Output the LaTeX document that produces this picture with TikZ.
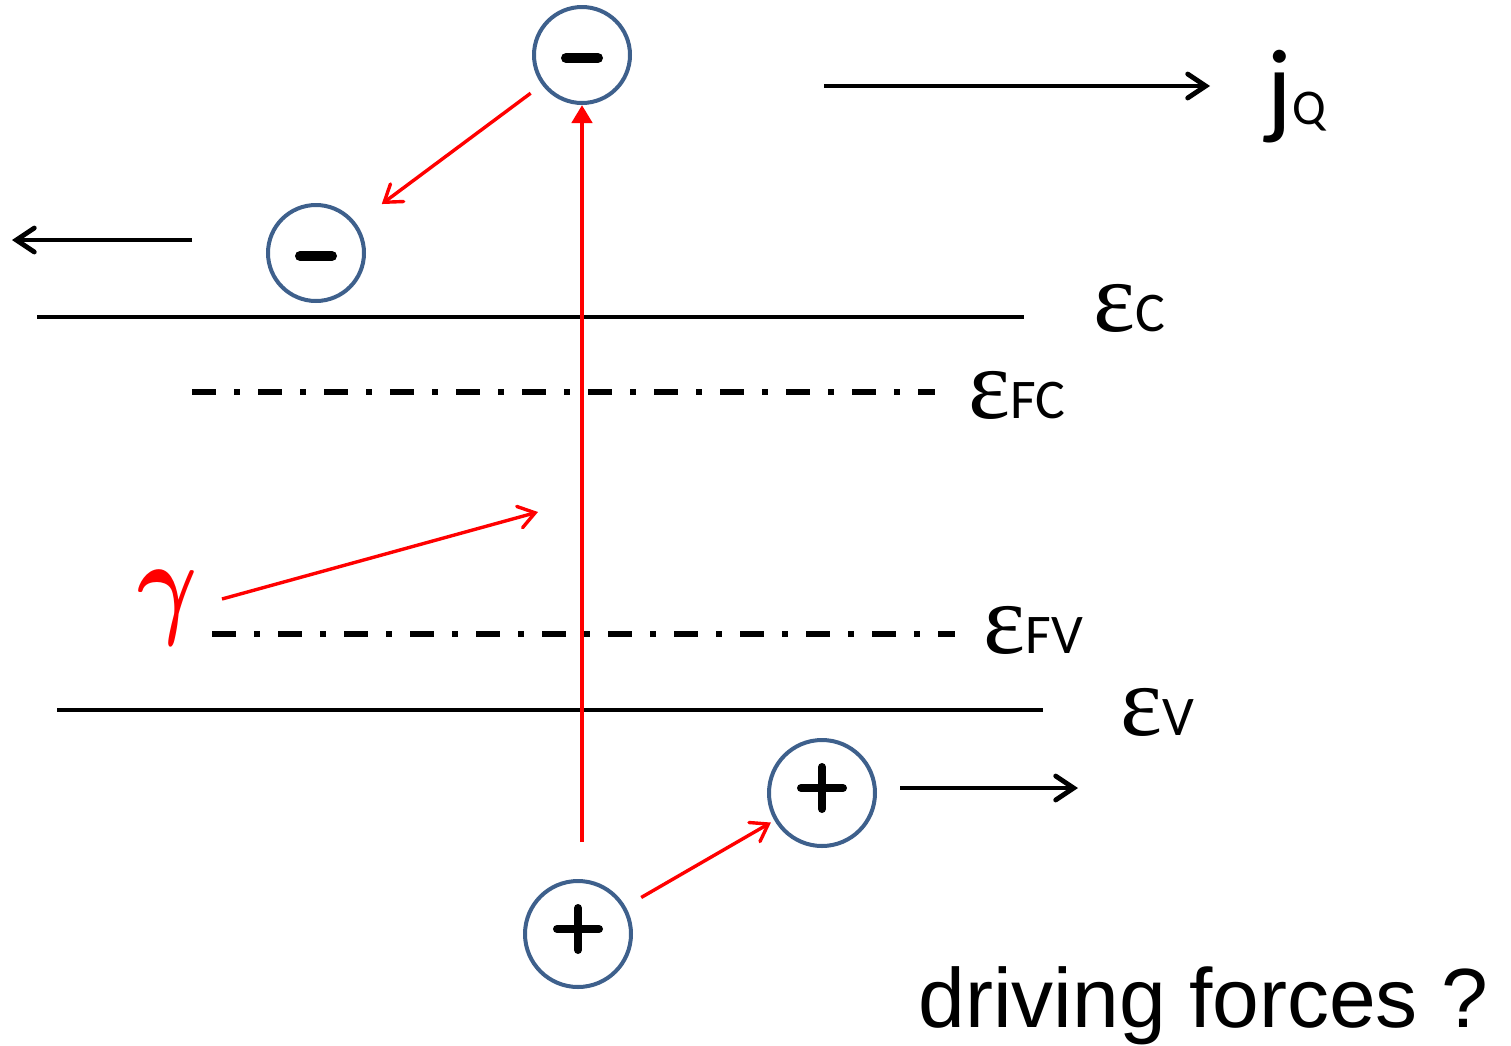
\documentclass[tikz,border=0pt]{standalone}
\usepackage{bm}
\usepackage{fontspec}
\usetikzlibrary{arrows.meta}
\newfontfamily\carlitofont{Carlito}
\newfontfamily\arialfont{Liberation Sans}
\newfontfamily\greekfont{Liberation Serif}
\definecolor{circblue}{RGB}{62,96,140}
\definecolor{photon}{RGB}{255,0,0}
\newcommand{\bandlabel}[1]{{\fontsize{50}{50}\selectfont\greekfont ε}{\fontsize{28}{28}\selectfont\carlitofont #1}}
\tikzset{
	carrier/.style={circle, draw=circblue, line width=2pt, fill=white, inner sep=0pt},
	sign/.style={line width=5pt, line cap=round},
	level/.style={line width=2.4pt},
	fermi/.style={line width=3pt, dash pattern=on 12pt off 9pt on 3pt off 9pt},
	flow/.style={line width=2.4pt, -{Straight Barb[length=9pt, width=12pt, line cap=round]}},
	hop/.style={photon, line width=1.7pt, -{Straight Barb[length=8pt, width=11pt, line cap=round]}},
	excite/.style={photon, line width=2.4pt, -{Triangle[length=9pt, width=10pt]}}
}

\begin{document}
\begin{tikzpicture}[x=0.5pt, y=-0.5pt]
				\useasboundingbox (0,0) rectangle (1511,1045);
				% Band edges
				\draw[level] (37,317) -- (1024,317);
				\draw[level] (57,710) -- (1043,710);
				% Quasi Fermi levels
				\draw[fermi] (192,392) -- (935,392);
				\draw[fermi] (212,634) -- (955,634);
				% Level labels
				\node[anchor=base west, inner sep=0pt] (ec) at (1093,331) {\bandlabel{C}};
				\node[anchor=base west, inner sep=0pt] (efc) at (968,418) {\bandlabel{FC}};
				\node[anchor=base west, inner sep=0pt] (efv) at (983,653) {\bandlabel{FV}};
				\node[anchor=base west, inner sep=0pt] (ev) at (1120,735) {\bandlabel{V}};
				% Carriers
				\node[carrier, minimum size=48pt] (em1) at (582,55) {};
				\node[carrier, minimum size=48pt] (em2) at (316,253) {};
				\node[carrier, minimum size=53pt] (hp1) at (578,934) {};
				\node[carrier, minimum size=53pt] (hp2) at (822,793) {};
				\foreach \n in {em1,em2}
					\draw[sign] ([shift={(-16,3)}]\n.center) -- ([shift={(16,3)}]\n.center);
				\foreach \n in {hp1,hp2}{
					\draw[sign, line width=4pt] ([shift={(-21,-5)}]\n.center) -- ([shift={(21,-5)}]\n.center);
					\draw[sign, line width=4pt] ([shift={(0,-26)}]\n.center) -- ([shift={(0,16)}]\n.center);
				}
				% Photon
				\node[photon, anchor=base, inner sep=0pt, xscale=1.85, yscale=2.35] (gam) at (168,622) {\Huge$\bm{\gamma}$};
				\coordinate (gtip) at (538,512);
				\draw[hop] (222,599) -- (gtip);
				% Excitation and relaxation
				\coordinate (pump) at (582,842);
				\draw[excite] (pump) -- (582,105);
				\draw[hop, shorten <=7pt, shorten >=16pt] (em1) -- (em2);
				\draw[hop, shorten <=9pt, shorten >=2pt] (hp1) -- (hp2);
				% Currents
				\node[anchor=base west, inner sep=0pt] (jq) at (1266,124) {{\fontsize{54}{54}\selectfont\carlitofont j}{\fontsize{25}{25}\selectfont\carlitofont Q}};
				\coordinate (jstart) at (824,86);
				\draw[flow] (jstart) -- (1210,86);
				\coordinate (eleft) at (12,240);
				\draw[flow] (192,240) -- (eleft);
				\coordinate (hright) at (1078,788);
				\draw[flow] (900,788) -- (hright);
				% Question
				\node[anchor=base west, inner sep=0pt] (ask) at (918,1027) {\fontsize{42}{42}\selectfont\arialfont driving forces ?};
			\end{tikzpicture}
\end{document}
